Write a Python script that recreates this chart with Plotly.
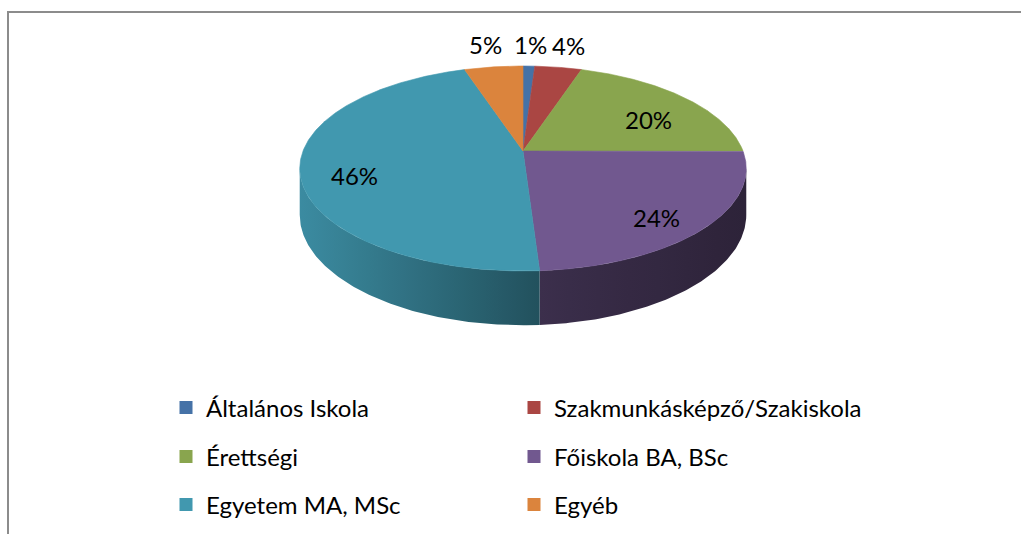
import numpy as np
import plotly.graph_objects as go

# ---- data ----
categories = ["Általános Iskola", "Szakmunkásképző/Szakiskola", "Érettségi",
              "Főiskola BA, BSc", "Egyetem MA, MSc", "Egyéb"]
values = [1, 4, 20, 24, 46, 5]
colors = ["#4572A7", "#AA4643", "#89A54E", "#71588F", "#4198AF", "#DB843D"]

FONT = "Lato"

# ---- 3D pie geometry (pixel-like axis space) ----
CX, CY = 523.0, 151.0
A, B, P = 220.0, 99.5, 0.1707
H0 = 45.0


def proj(theta, r=1.0, drop=0.0):
    u = r * np.sin(theta)
    v = r * np.cos(theta)
    d = 1 + P * v
    return CX + A * u / d, CY - B * v / d + drop / d


def hex_to_rgb(h):
    h = h.lstrip("#")
    return tuple(int(h[i:i + 2], 16) for i in (0, 2, 4))


def shade(hexc, f):
    r, g, b = hex_to_rgb(hexc)
    return "rgb(%d,%d,%d)" % (r * f, g * f, b * f)


def shade_factor(x):
    return float(np.interp(x, [300, 543, 746], [0.92, 0.53, 0.40]))


total = float(sum(values))
fracs = np.array(values) / total
starts = np.concatenate([[0], np.cumsum(fracs)[:-1]]) * 2 * np.pi
ends = np.cumsum(fracs) * 2 * np.pi

vis0 = np.arccos(-P)
vis1 = 2 * np.pi - vis0

fig = go.Figure()

# side walls
for cat, t0, t1, col in zip(categories, starts, ends, colors):
    a0, a1 = max(t0, vis0), min(t1, vis1)
    if a1 <= a0:
        continue
    ts = np.linspace(a0, a1, 120)
    xt, yt = proj(ts)
    xb, yb = proj(ts, drop=H0)
    xs = np.concatenate([xt, xb[::-1], [xt[0]]])
    ys = np.concatenate([yt, yb[::-1], [yt[0]]])
    xmin, xmax = xs.min(), xs.max()
    stops = np.linspace(0, 1, 8)
    cs = [[float(s), shade(col, shade_factor(xmin + s * (xmax - xmin)))] for s in stops]
    fig.add_trace(go.Scatter(
        x=xs, y=ys, mode="lines", fill="toself",
        line=dict(width=0, color=cs[0][1]),
        fillgradient=dict(type="horizontal", colorscale=cs),
        hoverinfo="skip", showlegend=False))

# top faces
for cat, t0, t1, col, val in zip(categories, starts, ends, colors, values):
    ts = np.linspace(t0, t1, max(8, int(200 * (t1 - t0))))
    xa, ya = proj(ts)
    xs = np.concatenate([[CX], xa, [CX]])
    ys = np.concatenate([[CY], ya, [CY]])
    fig.add_trace(go.Scatter(
        x=xs, y=ys, mode="lines", fill="toself", fillcolor=col,
        line=dict(width=0.6, color=col), name=cat,
        hovertemplate=f"{cat}: {val}%<extra></extra>", showlegend=False))

# data labels
for t0, t1, val in zip(starts, ends, values):
    tm = (t0 + t1) / 2
    if val < 10:
        lx, _ = proj(tm, r=1.35)
        _, ly = proj(tm, r=1.0)
        ly -= 22
    else:
        lx, ly = proj(tm, r=0.76)
        ly += 10
    fig.add_annotation(x=lx, y=ly, text=f"{val}%", showarrow=False,
                       font=dict(family=FONT, size=24, color="#000000"),
                       xanchor="center", yanchor="middle")

# legend entries (two columns, three rows)
legend_names = ["legend", "legend2", "legend3"]
for i, (cat, col) in enumerate(zip(categories, colors)):
    fig.add_trace(go.Scatter(
        x=[None], y=[None], mode="markers", name=cat,
        marker=dict(symbol="square", size=13, color=col),
        legend=legend_names[i // 2], showlegend=True))

row_y = [408, 457, 505]
leg_common = dict(orientation="h", xanchor="left", yanchor="middle",
                  entrywidth=303, entrywidthmode="pixels",
                  font=dict(family=FONT, size=24, color="#000000"),
                  bgcolor="rgba(0,0,0,0)", itemwidth=30, traceorder="normal")

layout_legends = {}
for name, yy in zip(legend_names, row_y):
    layout_legends[name] = dict(x=166 / 1021, y=1 - yy / 534, **leg_common)

fig.update_layout(
    width=1021, height=534,
    margin=dict(l=0, r=0, t=0, b=0),
    paper_bgcolor="white", plot_bgcolor="white",
    xaxis=dict(range=[0, 1021], visible=False, fixedrange=True),
    yaxis=dict(range=[534, 0], visible=False, fixedrange=True),
    showlegend=True,
    shapes=[dict(type="rect", xref="x", yref="y", x0=8, y0=12, x1=1060, y1=580,
                 line=dict(color="#8c8c8c", width=2), fillcolor="rgba(0,0,0,0)",
                 layer="below")],
    **layout_legends,
)

fig.write_html("out.html", config={"displayModeBar": False},
               post_script="document.body.style.margin='0';document.body.style.overflow='hidden';")
